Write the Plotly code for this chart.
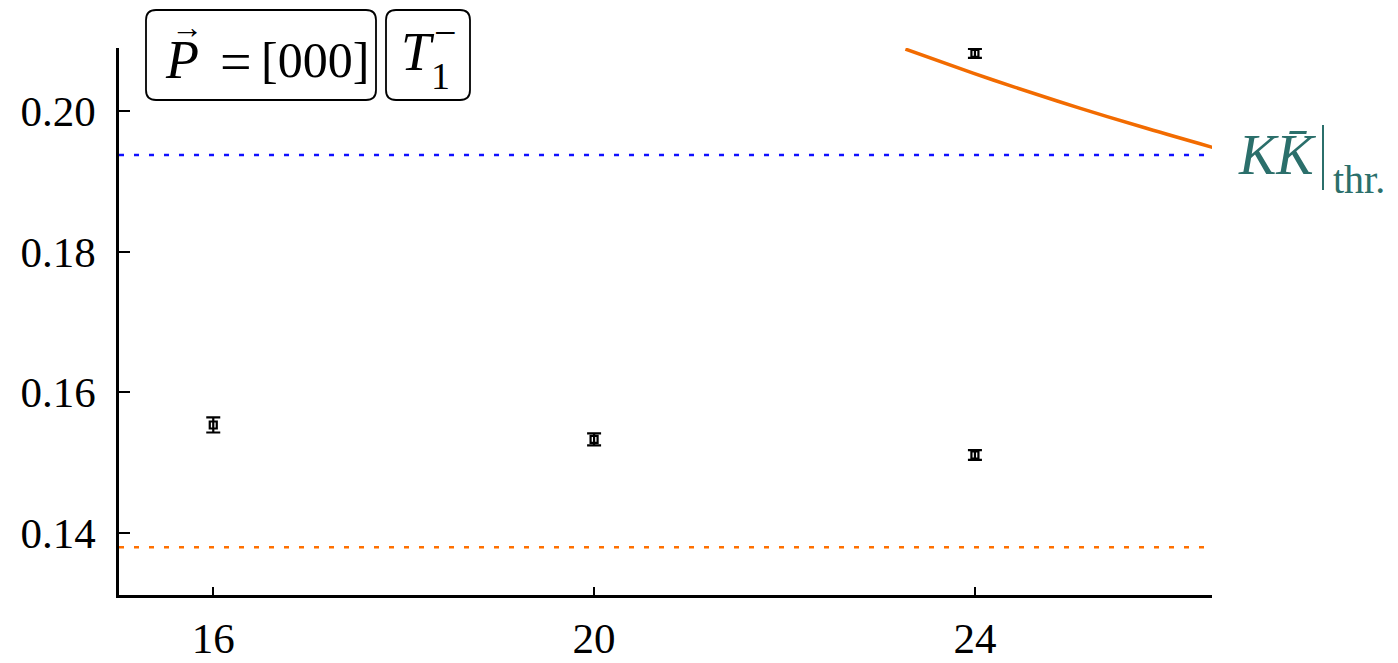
import plotly.graph_objects as go

# ---- data ----
L_vals = [16, 20, 24, 24]
E_vals = [0.15537, 0.15333, 0.15110, 0.20820]
E_errs = [0.00107, 0.00085, 0.00070, 0.00064]

curve_L = [23.27, 23.98, 24.40, 25.10, 25.81, 26.50]
curve_E = [0.20881, 0.20540, 0.20347, 0.20042, 0.19751, 0.19482]

thr_KK = 0.19375
thr_other = 0.1380

x_ticks = [16, 20, 24]
y_ticks = [0.14, 0.16, 0.18, 0.20]
x_range = [15.01, 26.49]
y_range = [0.1312, 0.20896]

W, H = 1398, 663
ML, MR, MT, MB = 119, 186, 48, 68
PW, PH = W - ML - MR, H - MT - MB

def px(x):
    return (x - ML) / PW

def py(y):
    return (H - MB - y) / PH

SERIF = "Liberation Serif"
TEAL = "#2b6f6b"

fig = go.Figure()

# threshold lines
fig.add_trace(go.Scatter(x=x_range, y=[thr_KK, thr_KK], mode="lines",
                         line=dict(color="#1010ff", width=2.5, dash="5px,10px"),
                         showlegend=False, hoverinfo="skip"))
fig.add_trace(go.Scatter(x=x_range, y=[thr_other, thr_other], mode="lines",
                         line=dict(color="#ff7000", width=2.5, dash="5px,10px"),
                         showlegend=False, hoverinfo="skip"))

# KKbar curve
fig.add_trace(go.Scatter(x=curve_L, y=curve_E, mode="lines",
                         line=dict(color="#f26b00", width=3.5, shape="spline"),
                         showlegend=False, hoverinfo="skip"))

# data points
fig.add_trace(go.Scatter(x=L_vals, y=E_vals, mode="markers",
                         marker=dict(symbol="square-open", size=7, color="black",
                                     line=dict(width=2.2, color="black")),
                         error_y=dict(type="data", array=E_errs, color="black",
                                      thickness=2.2, width=7),
                         showlegend=False))

fig.update_xaxes(range=x_range, tickvals=x_ticks, ticks="inside", ticklen=8,
                 tickwidth=2, tickcolor="black", showline=True, linecolor="black",
                 linewidth=2.5, showgrid=False, zeroline=False, mirror=False,
                 automargin=False,
                 tickfont=dict(family=SERIF, size=43, color="black"),
                 ticklabelstandoff=4)
fig.update_yaxes(range=y_range, tickvals=y_ticks, tickformat=".2f", ticks="inside",
                 ticklen=11, tickwidth=2, tickcolor="black", showline=True,
                 linecolor="black", linewidth=2.5, showgrid=False, zeroline=False,
                 automargin=False,
                 tickfont=dict(family=SERIF, size=43, color="black"),
                 ticklabelstandoff=12)

def rounded_box(x0, y0, x1, y1, r=10):
    # pixel coords -> paper path
    X0, X1 = px(x0), px(x1)
    Y0, Y1 = py(y0), py(y1)  # Y0 top (larger), Y1 bottom
    rx, ry = r / PW, r / PH
    return (f"M {X0+rx},{Y0} L {X1-rx},{Y0} Q {X1},{Y0} {X1},{Y0-ry} "
            f"L {X1},{Y1+ry} Q {X1},{Y1} {X1-rx},{Y1} "
            f"L {X0+rx},{Y1} Q {X0},{Y1} {X0},{Y1+ry} "
            f"L {X0},{Y0-ry} Q {X0},{Y0} {X0+rx},{Y0} Z")

shapes = [
    dict(type="path", xref="paper", yref="paper", path=rounded_box(146, 10, 376, 100),
         line=dict(color="black", width=1.8), fillcolor="white"),
    dict(type="path", xref="paper", yref="paper", path=rounded_box(386, 10, 470, 100),
         line=dict(color="black", width=1.8), fillcolor="white"),
    # vertical evaluation bar of the threshold label
    dict(type="line", xref="paper", yref="paper", x0=px(1323), x1=px(1323),
         y0=py(125), y1=py(190), line=dict(color=TEAL, width=2)),
]
fig.update_layout(shapes=shapes)

annotations = [
    dict(xref="paper", yref="paper", x=px(182), y=py(60), text="<i>P</i>",
         showarrow=False, xanchor="center", yanchor="middle",
         font=dict(family=SERIF, size=54, color="black")),
    dict(xref="paper", yref="paper", x=px(187), y=py(27), text="→",
         showarrow=False, xanchor="center", yanchor="middle",
         font=dict(family=SERIF, size=32, color="black")),
    dict(xref="paper", yref="paper", x=px(236), y=py(62), text="=",
         showarrow=False, xanchor="center", yanchor="middle",
         font=dict(family=SERIF, size=56, color="black")),
    dict(xref="paper", yref="paper", x=px(315), y=py(60), text="[000]",
         showarrow=False, xanchor="center", yanchor="middle",
         font=dict(family=SERIF, size=50, color="black")),
    dict(xref="paper", yref="paper", x=px(418), y=py(52), text="<i>T</i>",
         showarrow=False, xanchor="center", yanchor="middle",
         font=dict(family=SERIF, size=54, color="black")),
    dict(xref="paper", yref="paper", x=px(440), y=py(76), text="1",
         showarrow=False, xanchor="center", yanchor="middle",
         font=dict(family=SERIF, size=38, color="black")),
    dict(xref="paper", yref="paper", x=px(445), y=py(32), text="−",
         showarrow=False, xanchor="center", yanchor="middle",
         font=dict(family=SERIF, size=40, color="black")),
    dict(xref="paper", yref="paper", x=px(1236), y=py(155), text="<i>K</i><i>K̄</i>",
         showarrow=False, xanchor="left", yanchor="middle",
         font=dict(family=SERIF, size=56, color=TEAL)),
    dict(xref="paper", yref="paper", x=px(1331), y=py(180), text="thr.",
         showarrow=False, xanchor="left", yanchor="middle",
         font=dict(family=SERIF, size=40, color=TEAL)),
]
fig.update_layout(annotations=annotations)

fig.update_layout(width=W, height=H, margin=dict(l=ML, r=MR, t=MT, b=MB),
                  plot_bgcolor="white", paper_bgcolor="white", showlegend=False)

fig.write_html("out.html")
